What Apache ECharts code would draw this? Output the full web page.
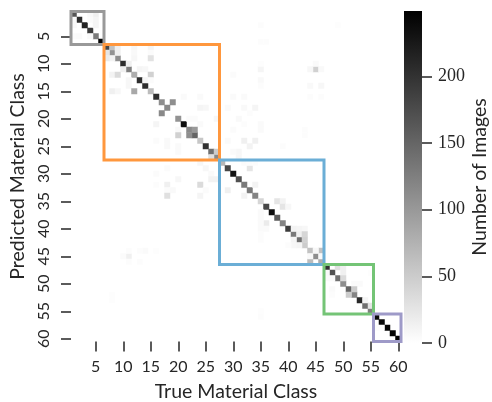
<!DOCTYPE html>
<html><head><meta charset="utf-8">
<style>html,body{margin:0;padding:0;background:#fff}#c{width:492px;height:402px}</style>
<script src="https://cdn.jsdelivr.net/npm/echarts@6/dist/echarts.min.js"></script>
</head><body><div id="c"></div>
<script>
const classes = Array.from({length:60},(_,i)=>String(i+1));
const diagonal = [165,205,215,190,130,245,180,105,110,205,125,80,205,205,65,205,110,115,0,105,235,115,150,55,200,140,115,
  70,180,230,170,130,130,120,40,180,235,160,120,190,130,140,50,60,110,80,
  200,170,140,110,150,120,210,140,125,240,240,245,245,248];
// [true class, predicted class, count]
const offDiagonal = [
 [5,1,15],[4,1,6],[5,2,10],[4,2,4],[5,3,10],[1,2,6],[1,3,6],[1,5,4],[2,5,5],[4,5,6],
 [8,7,60],[9,7,15],[9,8,15],[8,9,12],[7,8,25],[7,9,20],[12,7,8],[12,8,6],[12,9,8],[15,7,10],[15,8,4],[15,9,28],
 [11,10,15],[10,11,15],[13,11,10],[14,11,8],[8,12,12],[9,12,35],[15,12,45],[11,13,8],[11,14,8],[14,13,10],[15,13,4],
 [8,15,15],[9,15,8],[12,15,85],[19,17,110],[17,19,115],
 [21,16,5],[24,16,5],[24,18,10],[25,18,8],[16,21,10],[23,20,4],[22,20,4],[27,20,8],[24,21,5],[20,22,6],[20,23,45],
 [23,22,100],[22,23,110],[16,24,4],[18,24,6],[18,25,6],[20,25,5],[20,26,5],[26,27,30],[27,26,50],
 [29,18,5],[32,18,6],[34,18,10],[33,19,3],[31,20,6],[32,21,3],[35,21,5],[35,22,5],[30,22,4],[29,24,5],[32,24,15],[34,24,15],[33,25,12],[39,25,3],[31,26,8],[31,27,8],[30,26,5],
 [35,11,10],[45,11,45],[44,11,8],[46,11,6],[35,13,6],[35,14,3],[44,14,6],[46,14,8],[35,3,3],[35,6,3],[36,6,3],[49,3,2],[45,10,5],[35,10,2],[30,12,4],[30,16,5],[32,16,5],[44,16,3],[46,16,3],[43,22,3],[43,23,3],
 [24,28,8],[25,29,8],[26,30,5],[26,31,12],[27,31,12],[20,31,8],[16,30,4],[18,29,4],[18,32,15],[24,32,35],[16,32,3],[19,33,6],[18,33,4],[25,33,4],[18,34,30],[24,34,10],
 [11,45,15],[10,45,4],[11,44,3],[14,44,5],[13,44,3],[13,46,3],[11,46,3],[16,44,2],
 [33,29,25],[34,32,12],[29,33,15],[32,34,12],[38,35,25],[39,35,12],[39,36,25],[40,36,8],[36,39,20],[32,28,4],[33,28,3],[34,28,3],
 [35,37,5],[35,38,5],[35,39,5],[35,40,5],[35,41,3],[35,42,3],[36,40,5],[42,40,10],[43,40,8],[41,40,12],[42,41,15],[41,42,10],[41,43,8],[42,43,10],[40,43,3],
 [43,42,45],[43,41,40],[46,44,60],[44,46,65],[45,44,8],[44,45,6],[46,45,6],
 [49,47,30],[50,47,15],[50,48,15],[50,49,35],[48,49,5],[47,49,5],[47,48,6],[52,50,5],[53,50,5],[48,51,5],[48,52,3],[52,51,50],[51,52,50],[54,53,10],[55,54,25],
 [8,52,2],[8,53,2],[35,56,3],[35,55,2],[57,58,3],[56,58,3],[55,48,2]
];
const boxStart = [1,7,28,47,56];
const boxEnd = [6,27,46,55,60];
const boxColors = ['#999999','#ff973d','#6baed6','#74c476','#9e9ac8'];
const barTicks = [0,50,100,150,200];
const maxCount = 249;

const cells = diagonal.map((v,i)=>[i,i,v]).filter(d=>d[2]>0)
  .concat(offDiagonal.map(d=>[d[0]-1,d[1]-1,d[2]]));
const every5 = (i)=>(i+1)%5===0;
const ink = '#262626';
const sans = 'Lato';

const chart = echarts.init(document.getElementById('c'),null,{renderer:'canvas'});
chart.setOption({
  animation:false,
  backgroundColor:'#fff',
  grid:[{left:71,top:11.5,width:330,height:330,outerBoundsMode:'none'},
        {left:404,top:11,width:18,height:332,outerBoundsMode:'none'}],
  xAxis:[{type:'category',data:classes,gridIndex:0,
      name:'True Material Class',nameLocation:'middle',nameGap:40,
      nameTextStyle:{fontFamily:sans,fontSize:19.5,color:ink},
      axisLine:{show:false},splitLine:{show:false},
      axisTick:{show:true,length:10,alignWithLabel:true,interval:(i)=>every5(i),lineStyle:{color:ink,width:1.5}},
      axisLabel:{interval:(i)=>every5(i),fontFamily:sans,fontSize:16,color:ink,margin:17}},
    {type:'value',gridIndex:1,show:false,min:0,max:1}],
  yAxis:[{type:'category',data:classes,inverse:true,gridIndex:0,
      name:'Predicted Material Class',nameLocation:'middle',nameGap:42,
      nameTextStyle:{fontFamily:sans,fontSize:19.5,color:ink},
      axisLine:{show:false},splitLine:{show:false},
      axisTick:{show:true,length:10,alignWithLabel:true,interval:(i)=>every5(i),lineStyle:{color:ink,width:1.5}},
      axisLabel:{interval:(i)=>every5(i),rotate:90,fontFamily:sans,fontSize:16,color:ink,margin:19}},
    {type:'value',gridIndex:1,position:'right',min:0,max:maxCount,z:10,
      name:'Number of Images',nameLocation:'middle',nameGap:48,nameRotate:90,
      nameTextStyle:{fontFamily:sans,fontSize:19.5,color:ink},
      axisLine:{show:false,onZero:false},splitLine:{show:false},
      axisTick:{show:true,inside:false,length:10,customValues:barTicks,lineStyle:{color:ink,width:1.5}},
      axisLabel:{customValues:barTicks,fontFamily:'"Liberation Serif"',fontSize:18,color:ink,margin:16}}],
  visualMap:[{type:'continuous',seriesIndex:0,min:0,max:maxCount,show:false,
      inRange:{color:['#ffffff','#000000']}}],
  series:[
    {type:'heatmap',xAxisIndex:0,yAxisIndex:0,data:cells,progressive:0,emphasis:{disabled:true},silent:true},
    {type:'custom',xAxisIndex:0,yAxisIndex:0,clip:false,silent:true,z:5,
      data:boxStart.map((s,i)=>[s-1,boxEnd[i]-1,i]),
      encode:{x:[0,1],y:[0,1]},
      renderItem:(params,api)=>{
        const a=api.coord([api.value(0),api.value(0)]);
        const b=api.coord([api.value(1),api.value(1)]);
        const band=params.coordSys.width/classes.length;
        return {type:'rect',
          shape:{x:a[0]-band/2,y:a[1]-band/2,width:b[0]-a[0]+band,height:b[1]-a[1]+band},
          style:{fill:'none',stroke:boxColors[api.value(2)],lineWidth:3}};
      }},
    {type:'custom',xAxisIndex:1,yAxisIndex:1,silent:true,
      data:[[0,maxCount]],encode:{y:[0,1]},
      renderItem:(params,api)=>{
        const lo=api.coord([0,api.value(0)]);
        const hi=api.coord([1,api.value(1)]);
        return {type:'rect',
          shape:{x:lo[0],y:hi[1],width:hi[0]-lo[0],height:lo[1]-hi[1]},
          style:{fill:new echarts.graphic.LinearGradient(0,0,0,1,[{offset:0,color:'#000000'},{offset:1,color:'#ffffff'}])}};
      }}
  ]
});
</script></body></html>
